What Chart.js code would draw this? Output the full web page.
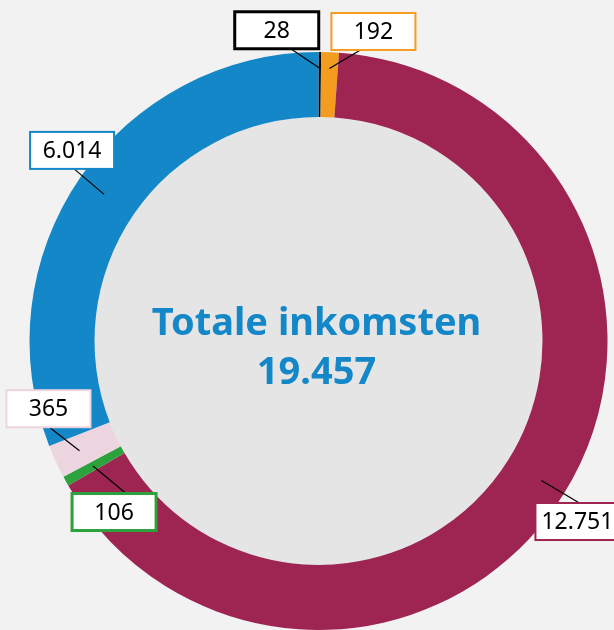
<!DOCTYPE html>
<html lang="nl">
<head>
<meta charset="utf-8">
<title>Totale inkomsten</title>
<script src="https://cdn.jsdelivr.net/npm/chart.js@4"></script>
<style>
  html, body { margin: 0; padding: 0; background: #f2f2f2; }
  #wrap { width: 614px; height: 630px; position: relative; }
</style>
</head>
<body>
<div id="wrap"><canvas id="inkomstenChart"></canvas></div>
<script>
// gegevens
const categorieen = ['Segment 1', 'Segment 2', 'Segment 3', 'Segment 4', 'Segment 5', 'Segment 6'];
const waarden = [28, 192, 12751, 106, 365, 6014];
const totaalInkomsten = 19457;
const titel = 'Totale inkomsten';

// opmaak
const kleuren = ['#000000', '#f39c1f', '#9e2452', '#2ca13c', '#ecd5df', '#1487c8'];
// plaats van elk labelvakje ten opzichte van het ankerpunt op de ring
const labelLayout = [
  { r: 0.75, dx: -43, dy: -38, lx: 14, rand: 3 },
  { r: 0.75, dx: 44, dy: -37, lx: -13, rand: 2 },
  { r: 0.6, dx: 36, dy: 41, lx: 2, rand: 2 },
  { r: 0.52, dx: 21, dy: 46, lx: 12, rand: 3 },
  { r: 0.6, dx: -31, dy: -42, lx: 1, rand: 2 },
  { r: 0.55, dx: -32, dy: -44, lx: 2, rand: 2 }
];

function formatNL(n) {
  return String(n).replace(/\B(?=(\d{3})+(?!\d))/g, '.');
}

const middenPlugin = {
  id: 'midden',
  beforeDatasetsDraw(chart) {
    const ctx = chart.ctx;
    const arc = chart.getDatasetMeta(0).data[0];
    if (!arc) return;
    ctx.save();
    ctx.fillStyle = '#e5e5e5';
    ctx.beginPath();
    ctx.arc(arc.x, arc.y, arc.innerRadius, 0, Math.PI * 2);
    ctx.fill();
    ctx.restore();
  },
  afterDatasetsDraw(chart) {
    const ctx = chart.ctx;
    const arcs = chart.getDatasetMeta(0).data;
    if (!arcs.length) return;
    const cx = arcs[0].x, cy = arcs[0].y;

    // tekst in het midden
    ctx.save();
    ctx.fillStyle = '#1487c8';
    ctx.textAlign = 'center';
    ctx.textBaseline = 'alphabetic';
    ctx.font = 'bold 38px "Noto Sans"';
    ctx.fillText(titel, cx - 2, 335);
    ctx.fillText(formatNL(totaalInkomsten), cx - 2, 384);
    ctx.restore();

    // labels met lijntjes
    arcs.forEach((arc, i) => {
      const lay = labelLayout[i];
      const mid = (arc.startAngle + arc.endAngle) / 2;
      const r = arc.innerRadius + lay.r * (arc.outerRadius - arc.innerRadius);
      const ax = cx + r * Math.cos(mid);
      const ay = cy + r * Math.sin(mid);
      const bx = ax + lay.dx, by = ay + lay.dy;
      const w = 84, h = 37;
      const ex = bx + lay.lx;
      const ey = lay.dy < 0 ? by + h / 2 : by - h / 2;

      ctx.save();
      ctx.strokeStyle = '#000';
      ctx.lineWidth = 1.2;
      ctx.beginPath();
      ctx.moveTo(ax, ay);
      ctx.lineTo(ex, ey);
      ctx.stroke();

      ctx.fillStyle = '#ffffff';
      ctx.fillRect(bx - w / 2, by - h / 2, w, h);
      ctx.strokeStyle = kleuren[i];
      ctx.lineWidth = lay.rand;
      ctx.strokeRect(bx - w / 2, by - h / 2, w, h);

      ctx.fillStyle = '#000';
      ctx.font = '23px "Noto Sans"';
      ctx.textAlign = 'center';
      ctx.textBaseline = 'middle';
      ctx.fillText(formatNL(waarden[i]), bx, by + 1);
      ctx.restore();
    });
  }
};

new Chart(document.getElementById('inkomstenChart'), {
  type: 'doughnut',
  data: {
    labels: categorieen,
    datasets: [{
      data: waarden,
      backgroundColor: kleuren,
      borderWidth: 0
    }]
  },
  options: {
    responsive: true,
    maintainAspectRatio: false,
    animation: false,
    events: [],
    cutout: '77.5%',
    layout: { padding: { top: 52, bottom: 0, left: 23, right: 0 } },
    plugins: {
      legend: { display: false },
      tooltip: { enabled: false }
    }
  },
  plugins: [middenPlugin]
});
</script>
</body>
</html>
